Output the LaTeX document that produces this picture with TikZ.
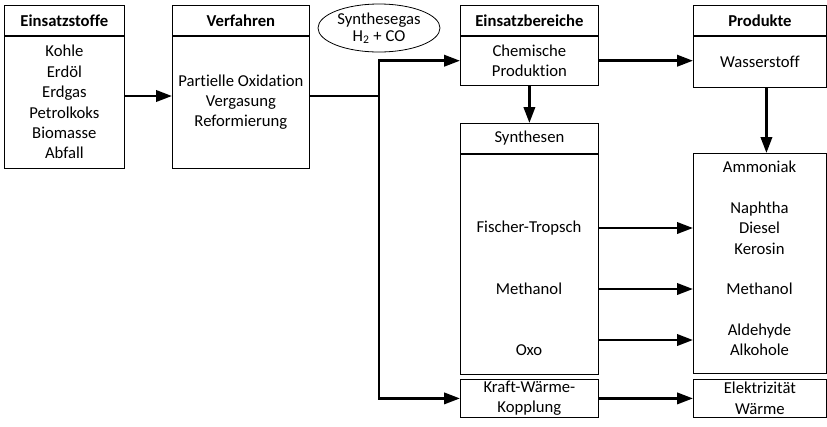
\documentclass[tikz,border=0pt]{standalone}
\usepackage{fontspec}
\setmainfont{Carlito}[Ligatures=NoCommon]
\usetikzlibrary{arrows.meta}
\usetikzlibrary{positioning}
\usetikzlibrary{shapes.geometric}

\newcommand{\grundschrift}{\fontsize{12.5}{15.3}\selectfont}
\tikzset{
  kopf/.style={draw, line width=0.6pt, font=\grundschrift\bfseries, minimum height=22.5pt, inner sep=0pt},
  kopfduenn/.style={kopf, font=\grundschrift},
  rumpf/.style={draw, line width=0.6pt, font=\grundschrift, align=center, inner sep=0pt},
  eintrag/.style={font=\grundschrift, align=center, inner sep=0pt},
  pfeil/.style={line width=2pt, -{Triangle[length=12pt,width=8.5pt]}},
  linie/.style={line width=2pt},
}

\begin{document}
\begin{tikzpicture}[x=0.75pt, y=-0.75pt]
	\useasboundingbox (0,0) rectangle (827,426);

	% Einsatzstoffe
	\node[kopf, minimum width=90pt, anchor=north west] (stoffeK) at (4,5) {Einsatzstoffe};
	\node[rumpf, minimum width=90pt, minimum height=99pt, below=0pt of stoffeK] (stoffe)
	{Kohle\\Erdöl\\Erdgas\\Petrolkoks\\Biomasse\\Abfall};

	% Verfahren
	\node[kopf, minimum width=102.75pt, anchor=north west] (verfahrenK) at (172,5) {Verfahren};
	\node[rumpf, minimum width=102.75pt, minimum height=99pt, below=0pt of verfahrenK] (verfahren)
	{Partielle Oxidation\\Vergasung\\Reformierung};

	\node[draw, ellipse, line width=0.6pt, minimum width=91.5pt, minimum height=36pt, inner sep=0pt,
	align=center, font=\fontsize{12.5}{12.75}\selectfont] (gas) at (379,28) {Synthesegas\\H\textsubscript{2} + CO};

	% Einsatzbereiche
	\node[kopf, minimum width=103.5pt, anchor=north west] (bereicheK) at (460,5) {Einsatzbereiche};
	\node[rumpf, minimum width=103.5pt, minimum height=36.75pt, below=0pt of bereicheK] (chemie)
	{Chemische\\Produktion};
	\node[kopfduenn, minimum width=103.5pt, anchor=north west] (synK) at (460,123) {Synthesen};
	\node[rumpf, minimum width=103.5pt, minimum height=165pt, below=0pt of synK] (syn) {};
	\node[eintrag] (ft) at (529,228) {Fischer-Tropsch};
	\node[eintrag] (meth) at (529,289) {Methanol};
	\node[eintrag] (oxo) at (529,350) {Oxo};
	\node[rumpf, minimum width=103.5pt, minimum height=28.5pt, anchor=north west] (kwk) at (460,379)
	{Kraft-Wärme-\\Kopplung};

	% Produkte
	\node[kopf, minimum width=99.75pt, anchor=north west] (produkteK) at (693,5) {Produkte};
	\node[rumpf, minimum width=99.75pt, minimum height=38.25pt, below=0pt of produkteK] (wasser)
	{Wasserstoff};
	\node[rumpf, minimum width=99.75pt, minimum height=165pt, anchor=north west] (prod) at (693,153) {};
	\node[eintrag] (amm) at (759.5,167) {Ammoniak};
	\node[eintrag] (fuel) at (759.5,228) {Naphtha\\Diesel\\Kerosin};
	\node[eintrag] (meoh) at (759.5,289) {Methanol};
	\node[eintrag] (alde) at (759.5,340) {Aldehyde\\Alkohole};
	\node[rumpf, minimum width=99.75pt, minimum height=28.5pt, anchor=north west] (elek) at (693,379)
	{Elektrizität\\Wärme};

	% Verbindungen
	\coordinate (knoten) at (379,96);
	\draw[pfeil] (stoffe.east |- knoten) -- (verfahren.west |- knoten);
	\draw[linie] (verfahren.east |- knoten) -- (knoten);
	\draw[pfeil] (knoten) |- (chemie.west);
	\draw[pfeil] (knoten) |- (kwk.west);
	\draw[pfeil] (chemie.east) -- (wasser.west |- chemie.east);
	\draw[pfeil] (chemie.south) -- (synK.north);
	\draw[pfeil] ([xshift=4.9pt]wasser.south) -- ([xshift=4.9pt]prod.north);
	\draw[pfeil] (syn.east |- ft) -- (prod.west |- ft);
	\draw[pfeil] (syn.east |- meth) -- (prod.west |- meth);
	\draw[pfeil] (syn.east |- alde) -- (prod.west |- alde);
	\draw[pfeil] (kwk) -- (elek);
\end{tikzpicture}
\end{document}
